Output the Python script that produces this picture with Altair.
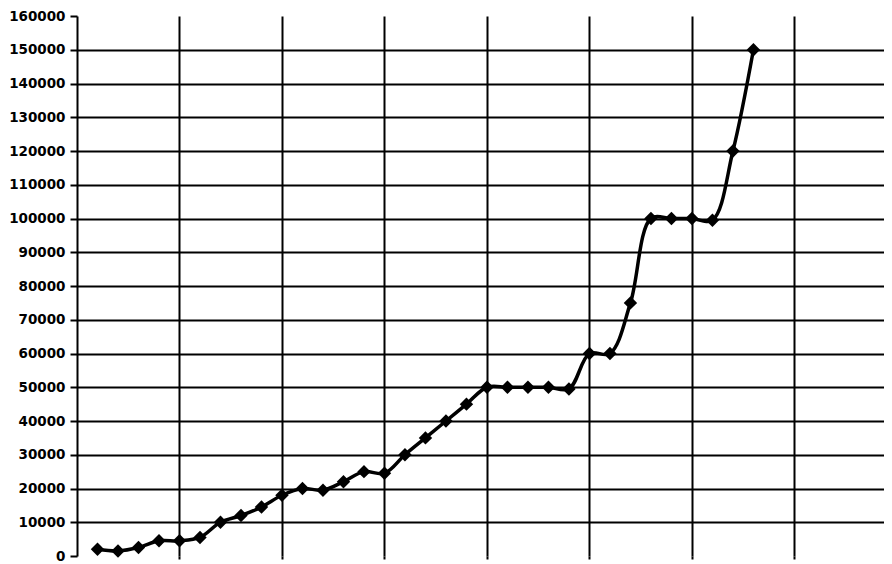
import altair as alt
import pandas as pd

index = list(range(1, 34))
values = [2000, 1500, 2500, 4500, 4500, 5500, 10000, 12000, 14500, 18000,
          20000, 19500, 22000, 25000, 24500, 30000, 35000, 40000, 45000, 50000,
          50000, 50000, 50000, 49500, 60000, 60000, 75000, 100000, 100000, 100000,
          99500, 120000, 150000]
y_ticks = list(range(0, 160001, 10000))
x_grid = [5, 10, 15, 20, 25, 30, 35]

df = pd.DataFrame({"i": index, "v": values})

chart = alt.Chart(df).mark_line(
    interpolate="catmull-rom", color="black", strokeWidth=3.5,
    point=alt.OverlayMarkDef(shape="diamond", size=180, filled=True, color="black", opacity=1),
).encode(
    x=alt.X("i:Q",
            scale=alt.Scale(domain=[0, 39.37], nice=False, zero=False),
            axis=alt.Axis(values=x_grid, labels=False, title=None, domain=False,
                          grid=True, gridColor="black", gridWidth=2, gridOpacity=1,
                          ticks=True, tickSize=3, tickWidth=2, tickColor="black")),
    y=alt.Y("v:Q",
            scale=alt.Scale(domain=[0, 160000], nice=False),
            axis=alt.Axis(values=y_ticks, format="d", title=None,
                          labelFont="DejaVu Sans", labelFontWeight="bold",
                          labelFontSize=13.5, labelColor="black", labelPadding=5,
                          tickColor="black", tickWidth=2, tickSize=7,
                          domainColor="black", domainWidth=2,
                          grid=True, gridColor="black", gridWidth=2,
                          gridOpacity={"condition": {"test": "datum.value == 0 || datum.value == 160000", "value": 0}, "value": 1})),
).properties(
    width=807, height=540,
    autosize=alt.AutoSizeParams(type="none"),
    padding={"left": 69, "top": 8, "right": 0, "bottom": 6},
).configure_view(stroke=None)

chart.save("out.html", embed_options={"renderer": "svg", "actions": False})
